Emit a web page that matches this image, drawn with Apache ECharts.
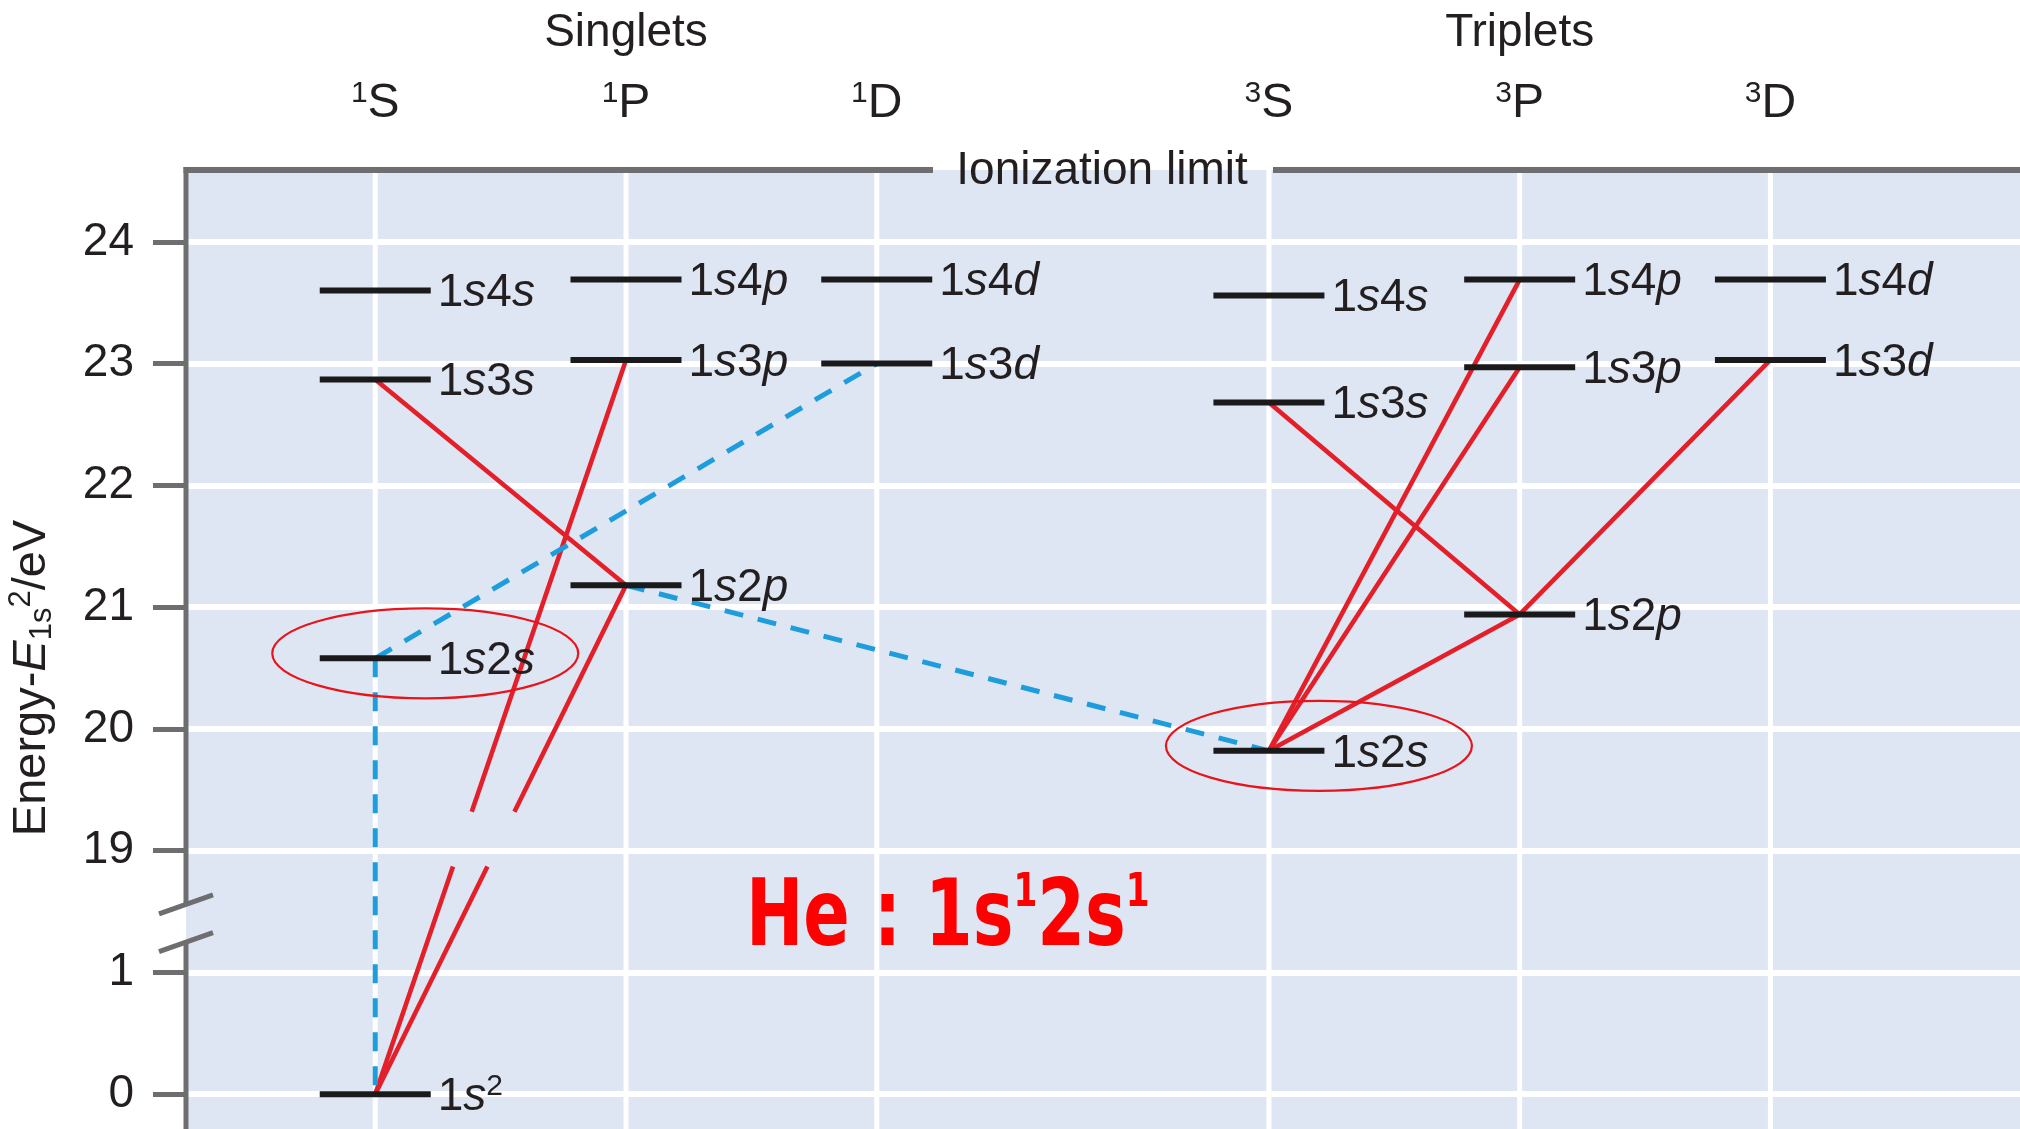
<!DOCTYPE html>
<html>
<head>
<meta charset="utf-8">
<title>He energy levels</title>
<script src="https://cdn.jsdelivr.net/npm/echarts@6/dist/echarts.min.js"></script>
<style>
html,body{margin:0;padding:0;background:#ffffff;}
#chart{width:2020px;height:1129px;}
</style>
</head>
<body>
<div id="chart"></div>
<script>
// ===== data =====
const terms      = ['1S', '1P', '1D', '3S', '3P', '3D'];
const termMult   = ['1', '1', '1', '3', '3', '3'];
const termL      = ['S', 'P', 'D', 'S', 'P', 'D'];
const groupNames = ['Singlets', 'Triplets'];
const groupTerm  = ['1P', '3P'];

const levelTerm   = ['1S','1S','1S','1S','1P','1P','1P','1D','1D','3S','3S','3S','3P','3P','3P','3D','3D'];
const levelConfig = ['1s^2','1s2s','1s3s','1s4s','1s2p','1s3p','1s4p','1s3d','1s4d','1s2s','1s3s','1s4s','1s2p','1s3p','1s4p','1s3d','1s4d'];
const levelEnergy = [0, 20.58, 22.87, 23.60, 21.18, 23.03, 23.69, 23.00, 23.69, 19.82, 22.68, 23.56, 20.94, 22.97, 23.69, 23.03, 23.69];

const allowedLines = [
  ['1S 1s^2', '1P 1s2p'], ['1S 1s^2', '1P 1s3p'], ['1S 1s3s', '1P 1s2p'],
  ['3S 1s2s', '3P 1s4p'], ['3S 1s2s', '3P 1s3p'], ['3S 1s2s', '3P 1s2p'],
  ['3S 1s3s', '3P 1s2p'], ['3P 1s2p', '3D 1s3d']
];
const forbiddenLines = [
  ['1S 1s2s', '1S 1s^2'], ['1S 1s2s', '1D 1s3d'], ['1P 1s2p', '3S 1s2s']
];
const circledLevels = ['1S 1s2s', '3S 1s2s'];
const ionizationEnergy = 24.59;
const yTickValues = [0, 1, 19, 20, 21, 22, 23, 24];

// ===== axis layout (broken energy axis, two groups of terms) =====
const lowerShift = 17, breakAt = 1.5;
const disp = e => (e < breakAt ? e + lowerShift : e);
const undisp = v => (v < breakAt + lowerShift ? v - lowerShift : v);
const tripletShift = 3.564;
const xOf = t => { const i = terms.indexOf(t); return i < 3 ? i : i - 3 + tripletShift; };
const axisGapDisp = [18.25, 18.56];
const lineGapDisp = [18.87, 19.32];
const ionLabelX = 1102;

const FONT = '"Liberation Sans", Arial, Helvetica, sans-serif';
const TXT = '#231f20';
const AXIS = '#6e6e71';
const RED = '#e3202a';
const BLUE = '#1d9ddb';

const levelIndex = {};
levelTerm.forEach((t, i) => { levelIndex[t + ' ' + levelConfig[i]] = i; });
const pt = id => { const i = levelIndex[id]; return [xOf(levelTerm[i]), disp(levelEnergy[i])]; };

const transData = [];
allowedLines.forEach(([a, b]) => transData.push([...pt(a), ...pt(b), 0]));
forbiddenLines.forEach(([a, b]) => transData.push([...pt(a), ...pt(b), 1]));

const cfgRich = c => {
  let out = '';
  for (let k = 0; k < c.length; k++) {
    const ch = c[k];
    if (ch === '^') { out += '{sup|' + c[k + 1] + '}'; k++; }
    else if (/[0-9]/.test(ch)) out += '{n|' + ch + '}';
    else out += '{i|' + ch + '}';
  }
  return out;
};

const tickDisp = yTickValues.map(disp);

const chart = echarts.init(document.getElementById('chart'), null, { renderer: 'canvas' });

const option = {
  animation: false,
  backgroundColor: '#ffffff',
  textStyle: { fontFamily: FONT },
  grid: {
    left: 186, top: 170, width: 1834, height: 1046,
    show: true, backgroundColor: '#dfe6f3', borderWidth: 0,
    containLabel: false, outerBoundsMode: 'none'
  },
  xAxis: { type: 'value', min: -0.7547, max: 6.5593, show: false, axisLine: { onZero: false } },
  yAxis: {
    type: 'value', min: 16, max: ionizationEnergy, interval: 1, position: 'left',
    axisLine: { show: false, onZero: false },
    axisTick: { show: true, inside: false, length: 33, customValues: tickDisp,
      lineStyle: { color: AXIS, width: 5 } },
    axisLabel: { show: true, margin: 52, customValues: tickDisp,
      formatter: v => String(Math.round(undisp(v))),
      fontFamily: FONT, fontSize: 46, color: TXT },
    splitLine: { show: true, lineStyle: { color: '#ffffff', width: 6 } }
  },
  graphic: [
    { type: 'text', x: 32, y: 678, rotation: Math.PI / 2, z: 100, silent: true,
      style: {
        text: '{n|Energy-}{i|E}{sub|1s}{sup|2}{n|/eV}', align: 'center', verticalAlign: 'middle', fill: TXT,
        rich: {
          n: { fontFamily: FONT, fontSize: 47, fill: TXT, lineHeight: 52, verticalAlign: 'middle' },
          i: { fontFamily: FONT, fontSize: 47, fontStyle: 'italic', fill: TXT, lineHeight: 52, verticalAlign: 'middle' },
          sub: { fontFamily: FONT, fontSize: 31, fill: TXT, lineHeight: 28, verticalAlign: 'bottom' },
          sup: { fontFamily: FONT, fontSize: 31, fill: TXT, lineHeight: 44, verticalAlign: 'top' }
        }
      } },
    { type: 'text', x: ionLabelX, y: 171, z: 100, silent: true,
      style: { text: 'Ionization limit', align: 'center', verticalAlign: 'middle',
        fontFamily: FONT, fontSize: 46, fill: TXT } },
    { type: 'text', x: 746, y: 921, scaleX: 0.745, z: 100, silent: true,
      style: {
        text: '{b|He : 1s}{s|1}{b|2s}{s|1}', align: 'left', verticalAlign: 'middle', fill: '#ff0000',
        rich: {
          b: { fontFamily: '"DejaVu Sans", sans-serif', fontWeight: 'bold', fontSize: 92, fill: '#ff0000', lineHeight: 100, verticalAlign: 'middle' },
          s: { fontFamily: '"DejaVu Sans", sans-serif', fontWeight: 'bold', fontSize: 46, fill: '#ff0000', lineHeight: 77, verticalAlign: 'top' }
        }
      } }
  ],
  series: [
    { // column grid lines and term headers
      type: 'custom', coordinateSystem: 'cartesian2d', clip: false, silent: true, z: 1,
      data: terms.map((t, i) => [xOf(t), i]),
      renderItem(params, api) {
        const cs = params.coordSys;
        const i = api.value(1);
        const px = api.coord([api.value(0), ionizationEnergy])[0];
        return { type: 'group', children: [
          { type: 'line', shape: { x1: px, y1: cs.y, x2: px, y2: cs.y + cs.height },
            style: { stroke: '#ffffff', lineWidth: 5 } },
          { type: 'text', style: { x: px, y: cs.y - 66, text: '{m|' + termMult[i] + '}{l|' + termL[i] + '}',
            align: 'center', verticalAlign: 'middle', fill: TXT,
            rich: {
              m: { fontFamily: FONT, fontSize: 30, fill: TXT, lineHeight: 26, verticalAlign: 'top' },
              l: { fontFamily: FONT, fontSize: 48, fill: TXT, lineHeight: 50, verticalAlign: 'middle' }
            } } }
        ] };
      }
    },
    { // group titles
      type: 'custom', coordinateSystem: 'cartesian2d', clip: false, silent: true, z: 1,
      data: groupTerm.map((t, i) => [xOf(t), i]),
      renderItem(params, api) {
        const cs = params.coordSys;
        const px = api.coord([api.value(0), ionizationEnergy])[0];
        return { type: 'text', style: { x: px, y: cs.y - 137, text: groupNames[api.value(1)],
          align: 'center', verticalAlign: 'middle', fontFamily: FONT, fontSize: 46, fill: TXT } };
      }
    },
    { // axis line with break marks, ionization limit line
      type: 'custom', coordinateSystem: 'cartesian2d', clip: false, silent: true, z: 2,
      data: [[0, ionizationEnergy]],
      renderItem(params, api) {
        const cs = params.coordSys;
        const ax = cs.x;
        const yTop = api.coord([0, api.value(1)])[1];
        const gTop = api.coord([0, axisGapDisp[1]])[1];
        const gBot = api.coord([0, axisGapDisp[0]])[1];
        const st = () => ({ stroke: AXIS, lineWidth: 5, fill: 'none' });
        const slash = y => ({ type: 'line', shape: { x1: ax - 27, y1: y + 9.5, x2: ax + 27, y2: y - 9.5 }, style: st() });
        return { type: 'group', children: [
          { type: 'line', shape: { x1: ax, y1: yTop - 3, x2: ax, y2: gTop }, style: st() },
          { type: 'line', shape: { x1: ax, y1: gBot, x2: ax, y2: cs.y + cs.height }, style: st() },
          slash(gTop), slash(gBot),
          { type: 'line', shape: { x1: ax - 2.5, y1: yTop, x2: ionLabelX - 169, y2: yTop }, style: { stroke: AXIS, lineWidth: 6 } },
          { type: 'line', shape: { x1: ionLabelX + 171, y1: yTop, x2: cs.x + cs.width, y2: yTop }, style: { stroke: AXIS, lineWidth: 6 } }
        ] };
      }
    },
    { // transitions
      type: 'custom', coordinateSystem: 'cartesian2d', clip: false, silent: true, z: 3,
      data: transData,
      renderItem(params, api) {
        const a = api.coord([api.value(0), api.value(1)]);
        const b = api.coord([api.value(2), api.value(3)]);
        const forb = api.value(4) === 1;
        const mk = () => forb
          ? { stroke: BLUE, lineWidth: 5, lineDash: [19, 15], fill: 'none' }
          : { stroke: RED, lineWidth: 4.6, fill: 'none' };
        const top = a[1] <= b[1] ? a : b;
        const bot = a[1] <= b[1] ? b : a;
        const gUp = api.coord([0, lineGapDisp[1]])[1];
        const gDn = api.coord([0, lineGapDisp[0]])[1];
        const segs = [];
        if (!forb && top[1] < gUp && bot[1] > gDn) {
          const xAt = y => top[0] + (bot[0] - top[0]) * (y - top[1]) / (bot[1] - top[1]);
          segs.push([top[0], top[1], xAt(gUp), gUp]);
          segs.push([xAt(gDn), gDn, bot[0], bot[1]]);
        } else {
          segs.push([a[0], a[1], b[0], b[1]]);
        }
        return { type: 'group', children: segs.map(s => ({
          type: 'line', shape: { x1: s[0], y1: s[1], x2: s[2], y2: s[3] }, style: mk() })) };
      }
    },
    { // energy levels
      type: 'scatter', silent: true, z: 4,
      symbol: 'rect', symbolSize: [111, 6],
      itemStyle: { color: '#1a1a1a', opacity: 1 },
      data: levelTerm.map((t, i) => ({ name: levelConfig[i], value: [xOf(t), disp(levelEnergy[i])] })),
      label: {
        show: true, position: 'right', distance: 7, offset: [0, 3], opacity: 1,
        formatter: p => cfgRich(p.name),
        rich: {
          n: { fontFamily: FONT, fontSize: 46, color: TXT, lineHeight: 50, verticalAlign: 'middle' },
          i: { fontFamily: FONT, fontSize: 46, fontStyle: 'italic', color: TXT, lineHeight: 50, verticalAlign: 'middle' },
          sup: { fontFamily: FONT, fontSize: 30, color: TXT, lineHeight: 30, verticalAlign: 'top' }
        }
      }
    },
    { // highlighted levels
      type: 'custom', coordinateSystem: 'cartesian2d', clip: false, silent: true, z: 6,
      data: circledLevels.map(pt),
      renderItem(params, api) {
        const p = api.coord([api.value(0), api.value(1)]);
        return { type: 'ellipse', shape: { cx: p[0] + 50, cy: p[1] - 5, rx: 153, ry: 45 },
          style: { fill: 'none', stroke: '#e8141c', lineWidth: 2.2 } };
      }
    }
  ]
};
chart.setOption(option);
</script>
</body>
</html>
